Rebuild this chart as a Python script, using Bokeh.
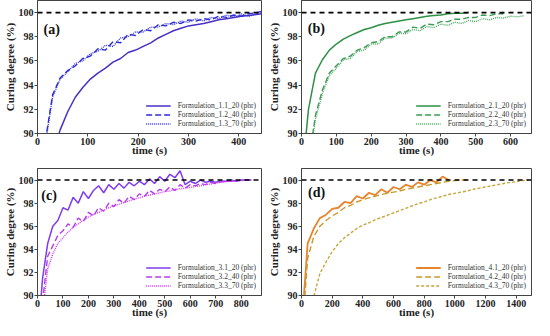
from bokeh.plotting import figure
from bokeh.layouts import gridplot
from bokeh.models import Span, Label, Legend, LegendItem, Range1d, FixedTicker
from bokeh.embed import file_html
from bokeh.resources import INLINE

# ---------------- data ----------------
# panel (a)
t_a = [0, 15, 30, 45, 60, 75, 90, 105, 120, 135, 150, 165, 180, 195, 210, 225, 240,
       255, 270, 285, 300, 315, 330, 345, 360, 375, 390, 405, 420, 435, 445]
f11 = [84.0, 86.0, 88.2, 90.3, 91.8, 93.0, 93.8, 94.5, 95.0, 95.4, 95.9, 96.2, 96.7, 96.9,
       97.2, 97.5, 97.9, 98.2, 98.5, 98.7, 98.9, 99.0, 99.1, 99.25, 99.4, 99.5, 99.6, 99.7,
       99.75, 99.85, 99.9]
f12 = [85.0, 89.2, 93.2, 94.6, 95.2, 95.6, 96.2, 96.4, 97.0, 96.9, 97.6, 97.5, 98.2, 98.1,
       98.6, 98.5, 99.0, 98.9, 99.2, 99.1, 99.4, 99.3, 99.5, 99.4, 99.7, 99.6, 99.8, 99.7,
       99.9, 100.0, 100.1]
f13 = [85.0, 89.0, 93.0, 94.5, 95.1, 95.8, 96.0, 96.6, 96.8, 97.3, 97.2, 97.9, 98.0, 98.4,
       98.4, 98.8, 98.8, 99.1, 99.0, 99.3, 99.2, 99.5, 99.3, 99.6, 99.5, 99.8, 99.6, 99.9,
       99.7, 99.9, 100.0]

# panel (b)
t_b = [0, 20, 40, 60, 80, 100, 120, 140, 160, 180, 200, 220, 240, 260, 280, 300, 320, 340,
       360, 380, 400, 420, 440, 460, 480, 500, 520, 540, 560, 580, 600, 620, 640]
f21 = [86.0, 92.0, 95.0, 96.1, 96.9, 97.4, 97.8, 98.1, 98.35, 98.6, 98.75, 98.95, 99.1,
       99.2, 99.3, 99.4, 99.5, 99.6, 99.7, 99.75, 99.8, 99.9, 99.95, 99.95, 100.0]
f22 = [84.0, 87.5, 91.5, 93.6, 95.0, 95.6, 96.2, 96.4, 96.9, 97.1, 97.5, 97.6, 98.0, 98.0,
       98.4, 98.4, 98.8, 98.7, 99.05, 99.0, 99.25, 99.25, 99.45, 99.45, 99.6, 99.6, 99.8,
       99.75, 99.9, 99.9]
f23 = [84.0, 87.2, 91.2, 93.3, 94.8, 95.4, 96.1, 96.2, 96.8, 96.9, 97.4, 97.4, 97.9, 97.9,
       98.3, 98.25, 98.6, 98.5, 98.85, 98.75, 99.05, 98.95, 99.2, 99.1, 99.35, 99.25, 99.5,
       99.4, 99.6, 99.55, 99.7, 99.65, 99.75]

# panel (c)
t_c = [0, 20, 40, 60, 80, 100, 120, 140, 160, 180, 200, 220, 240, 260, 280, 300, 320, 340,
       360, 380, 400, 420, 440, 460, 480, 500, 520, 540, 560, 580, 600, 620, 640, 660, 680,
       700, 720, 740, 760, 780, 800, 820, 840]
f31 = [86.0, 91.5, 94.5, 96.0, 96.5, 97.6, 97.4, 98.5, 98.0, 99.0, 98.4, 99.1, 99.5, 98.9,
       99.6, 99.2, 99.7, 99.3, 99.8, 99.5, 99.9, 99.6, 100.1, 99.7, 100.3, 99.9, 100.5, 100.2,
       100.8, 99.6, 99.9, 99.7, 100.0, 99.8, 99.9, 99.8, 99.9, 99.9, 100.0, 99.9, 100.0,
       100.0, 100.0]
f32 = [84.0, 89.5, 93.4, 94.3, 95.2, 95.6, 96.2, 95.9, 96.7, 96.4, 97.2, 96.9, 97.6, 97.3,
       98.0, 97.7, 98.3, 98.0, 98.6, 98.3, 98.8, 98.6, 99.1, 98.8, 99.2, 99.0, 99.4, 99.1,
       99.6, 99.3, 99.6, 99.5, 99.7, 99.6, 99.8, 99.7, 99.85, 99.9, 99.9, 100.0]
f33 = [84.0, 88.5, 92.3, 93.6, 94.5, 95.0, 95.5, 95.9, 96.2, 96.5, 96.8, 97.0, 97.2, 97.4,
       97.6, 97.75, 97.9, 98.05, 98.2, 98.35, 98.45, 98.6, 98.7, 98.8, 98.9, 99.0, 99.05,
       99.15, 99.25, 99.3, 99.35, 99.45, 99.5, 99.6, 99.65, 99.75, 99.8, 99.85, 99.9, 99.9,
       99.95, 100.0, 100.0]

# panel (d)
t_d = [0, 40, 80, 120, 160, 200, 240, 280, 320, 360, 400, 440, 480, 520, 560, 600, 640,
       680, 720, 760, 800, 840, 880, 920, 960, 1000, 1040, 1080, 1120, 1160, 1200, 1240,
       1280, 1320, 1360, 1400, 1440, 1480]
f41 = [87.0, 94.5, 95.8, 96.7, 97.0, 97.5, 97.6, 98.1, 98.0, 98.6, 98.4, 98.9, 98.7, 99.2,
       98.9, 99.4, 99.2, 99.6, 99.4, 99.8, 99.6, 100.0, 99.8, 100.3, 100.0]
f42 = [86.0, 93.2, 95.1, 96.0, 96.5, 96.9, 97.2, 97.6, 97.8, 98.1, 98.3, 98.45, 98.6, 98.75,
       98.85, 98.95, 99.05, 99.2, 99.3, 99.4, 99.5, 99.6, 99.7, 99.8, 99.9, 99.95, 100.0,
       100.0]
f43 = [84.0, 86.5, 89.9, 91.9, 92.9, 93.8, 94.5, 95.0, 95.4, 95.8, 96.1, 96.3, 96.55, 96.75,
       96.95, 97.15, 97.35, 97.55, 97.75, 97.95, 98.1, 98.3, 98.45, 98.6, 98.75, 98.85,
       98.95, 99.05, 99.2, 99.3, 99.4, 99.5, 99.6, 99.7, 99.8, 99.85, 99.95, 100.0]

names_a = ["Formulation_1.1_20 (phr)", "Formulation_1.2_40 (phr)", "Formulation_1.3_70 (phr)"]
names_b = ["Formulation_2.1_20 (phr)", "Formulation_2.2_40 (phr)", "Formulation_2.3_70 (phr)"]
names_c = ["Formulation_3.1_20 (phr)", "Formulation_3.2_40 (phr)", "Formulation_3.3_70 (phr)"]
names_d = ["Formulation_4.1_20 (phr)", "Formulation_4.2_40 (phr)", "Formulation_4.3_70 (phr)"]

y_ticks = [90, 92, 94, 96, 98, 100]
x_ticks_a = [0, 100, 200, 300, 400]
x_ticks_b = [0, 100, 200, 300, 400, 500, 600]
x_ticks_c = [0, 100, 200, 300, 400, 500, 600, 700, 800]
x_ticks_d = [0, 200, 400, 600, 800, 1000, 1200, 1400]

SERIF = "Liberation Serif"


def panel(t, series, names, colors, dashes, widths, xmax, xticks, tag, tagx, tagy,
          width, height, bl, br, bt, bb):
    p = figure(width=width, height=height, output_backend="svg", toolbar_location=None,
               x_range=Range1d(0, xmax), y_range=Range1d(90, 101),
               min_border_left=bl, min_border_right=br, min_border_top=bt,
               min_border_bottom=bb)
    p.grid.visible = False
    p.outline_line_color = "#444444"
    p.outline_line_width = 1
    for ax in (p.xaxis[0], p.yaxis[0]):
        ax.major_label_text_font = SERIF
        ax.major_label_text_font_style = "bold"
        ax.major_label_text_font_size = "10px"
        ax.major_label_text_color = "#222222"
        ax.axis_label_text_font = SERIF
        ax.axis_label_text_font_style = "bold"
        ax.axis_label_text_font_size = "11px"
        ax.axis_label_text_color = "#222222"
        ax.minor_tick_line_color = None
        ax.major_tick_out = 3
        ax.major_tick_in = 0
        ax.axis_line_color = "#444444"
        ax.major_tick_line_color = "#444444"
        ax.major_label_standoff = 1
        ax.axis_label_standoff = 0
    p.xaxis[0].axis_label_standoff = -4
    p.xaxis.ticker = FixedTicker(ticks=xticks)
    p.yaxis.ticker = FixedTicker(ticks=y_ticks)
    p.xaxis.axis_label = "time (s)"
    p.yaxis.axis_label = "Curing degree (%)"

    p.add_layout(Span(location=100, dimension="width", line_color="black",
                      line_dash="5 4", line_width=1.6))
    items = []
    for v, nm, c, d, w in zip(series, names, colors, dashes, widths):
        r = p.line(t[:len(v)], v, line_color=c, line_dash=d, line_width=w)
        items.append(LegendItem(label=nm, renderers=[r]))
    leg = Legend(items=items, location="bottom_right", label_text_font=SERIF,
                 label_text_font_size="7.5px", label_text_color="#333333",
                 label_height=9, glyph_height=9, glyph_width=25, spacing=0,
                 label_standoff=7, padding=3, margin=2,
                 background_fill_alpha=0, border_line_alpha=0)
    p.add_layout(leg)
    p.add_layout(Label(x=tagx, y=tagy, text=tag, text_font=SERIF,
                       text_font_style="bold", text_font_size="14px",
                       text_baseline="middle", text_color="#111111"))
    return p


pa = panel(t_a, [f11, f12, f13], names_a, ["#4a2fc6", "#2b2bd6", "#3a3ade"],
           ["solid", "6 3", "1 1"], [1.5, 1.4, 1.4], 445, x_ticks_a, "(a)", 12, 98.6,
           264, 158, 31, 3, 0, 20)
pb = panel(t_b, [f21, f22, f23], names_b, ["#2f8f46", "#3d9c55", "#4aa860"],
           ["solid", "6 3", "1 1"], [1.5, 1.4, 1.4], 660, x_ticks_b, "(b)", 18, 98.7,
           270, 158, 37, 3, 0, 20)
pc = panel(t_c, [f31, f32, f33], names_c, ["#7f3cf0", "#b43ce6", "#d03cf0"],
           ["solid", "6 3", "1 1"], [1.5, 1.4, 1.4], 880, x_ticks_c, "(c)", 15, 98.7,
           264, 162, 31, 3, 10, 20)
pd_ = panel(t_d, [f41, f42, f43], names_d, ["#e8842e", "#c89a2c", "#c8a43a"],
            ["solid", "6 3", "3 2"], [1.8, 1.4, 1.4], 1500, x_ticks_d, "(d)", 43, 98.9,
            270, 162, 37, 3, 10, 20)

grid = gridplot([[pa, pb], [pc, pd_]], toolbar_location=None)

open("out.html", "w").write(file_html(grid, INLINE))
